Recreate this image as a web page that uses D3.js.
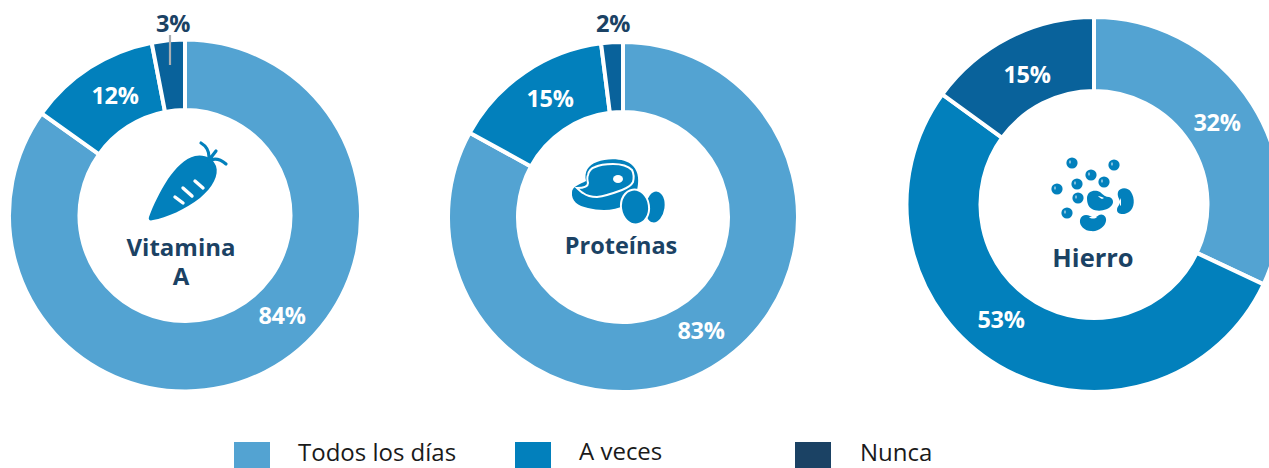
<!DOCTYPE html>
<html><head><meta charset="utf-8">
<script src="https://cdn.jsdelivr.net/npm/d3@7"></script>
<style>html,body{margin:0;background:#fff}svg{display:block}text{font-family:"Open Sans",sans-serif}</style>
</head><body><svg id="c" width="1269" height="468"></svg>
<script>
const categories = ["Todos los días","A veces","Nunca"];
const vitaminaA = [84,12,3];
const proteinas = [83,15,2];
const hierro = [32,53,15];

const sliceColors = ["#53a3d2","#0280bc","#09629b"];
const legendColors = ["#53a3d2","#0280bc","#1b4264"];
const dark = "#1b4264", iconBlue = "#0280bc";
const svg = d3.select("#c");
const color = d3.scaleOrdinal(categories, sliceColors);
const pie = d3.pie().sort(null).value(d => d.v);

const layouts = [
 {values:vitaminaA,cx:185,cy:215.5,R:176,r:105.5},
 {values:proteinas,cx:623,cy:217,R:175,r:105},
 {values:hierro,cx:1094,cy:204.5,R:187.5,r:113.5}
];
const labelPos = [
 [[97,100.5],[-70,-119.5],[-12,-192]],
 [[78,114],[-73,-118.5],[-10,-193.5]],
 [[123,-82],[-93,115.5],[-67,-130]]
];
layouts.forEach((l,i)=>{
  const g = svg.append("g").attr("transform",`translate(${l.cx},${l.cy})`);
  const arc = d3.arc().innerRadius(l.r).outerRadius(l.R);
  g.selectAll("path").data(pie(l.values.map((v,k)=>({v,c:categories[k]})))).join("path")
    .attr("d",arc).attr("fill",d=>color(d.data.c)).attr("stroke","#fff").attr("stroke-width",4);
  l.values.forEach((v,k)=>{
    const outside = i<2 && k===2;
    g.append("text").attr("x",labelPos[i][k][0]).attr("y",labelPos[i][k][1]+8)
     .attr("text-anchor","middle").attr("font-size",23.5).attr("font-weight",700)
     .attr("letter-spacing",-0.3)
     .attr("fill",outside?dark:"#fff").text(v+"%");
  });
});
svg.append("line").attr("x1",170).attr("x2",170).attr("y1",35).attr("y2",65)
  .attr("stroke","#a9aeb2").attr("stroke-width",2.2);

const titles = [
 {x:181,y:256,lines:["Vitamina","A"],size:24},
 {x:621,y:254,lines:["Proteínas"],size:23.5},
 {x:1093,y:267,lines:["Hierro"],size:25.5}
];
titles.forEach(t=>{
  const tx = svg.append("text").attr("text-anchor","middle").attr("font-size",t.size).attr("font-weight",700).attr("fill",dark);
  t.lines.forEach((s,n)=>tx.append("tspan").attr("x",t.x).attr("y",t.y+n*29).text(s));
});

// carrot icon
const carrot = svg.append("g").attr("fill",iconBlue);
carrot.append("path").attr("d","M149 217C148 220 150 221 153 220C166 218 186 209 200 198C213 187 219 175 216 166C213 158 204 154 195 156C185 158 175 169 168 179C160 191 153 206 149 217Z");
carrot.append("path").attr("d","M201 143C206 146 209 150 209 157M209 160L216 151M209 161C214 158 220 159 226 164")
  .attr("fill","none").attr("stroke",iconBlue).attr("stroke-width",3.2).attr("stroke-linecap","round");
carrot.append("path").attr("d","M175 197L183 203M183 188L192 196M195 181L203 188")
  .attr("fill","none").attr("stroke","#fff").attr("stroke-width",3.4).attr("stroke-linecap","round");

// meat and eggs icon
const meat = svg.append("g");
meat.append("path").attr("fill",iconBlue).attr("d","M572 192C572 187 580 184 586 181C584 172 588 165 597 162C608 158 625 158 633 166C639 172 639 182 637 190L625 205C615 211 600 211 588 208C578 206 571 201 572 192Z");
meat.append("path").attr("fill","none").attr("stroke","#fff").attr("stroke-width",2)
 .attr("d","M577 188C582 188 588 187 588 183C587 179 587 177 588 175C589 170 592 168 595 167C601 164 607 164 613 164C620 164 628 166 632 170C634 174 634 178 633 182C631 186 627 188 622 190C614 193 606 196 597 197C592 197 587 196 583 193C581 192 579 190 577 188Z");
meat.append("ellipse").attr("cx",618).attr("cy",179).attr("rx",5).attr("ry",4).attr("fill","#fff");
meat.append("ellipse").attr("cx",655).attr("cy",207).attr("rx",9.5).attr("ry",15.5).attr("fill",iconBlue).attr("transform","rotate(8 655 207)");
meat.append("ellipse").attr("cx",635).attr("cy",207).attr("rx",14).attr("ry",17.5).attr("fill",iconBlue).attr("stroke","#fff").attr("stroke-width",2).attr("transform","rotate(-8 635 207)");

// beans icon
const beans = svg.append("g");
const dots = [[1072,163],[1114,165],[1091,175],[1104,182],[1077,184],[1057,189],[1078,198],[1067,213]];
dots.forEach(([x,y])=>{
  beans.append("circle").attr("cx",x).attr("cy",y).attr("r",5.6).attr("fill",iconBlue);
  beans.append("ellipse").attr("cx",x-2).attr("cy",y-1).attr("rx",0.8).attr("ry",1.8).attr("fill","#a9d3ea");
});
beans.append("path").attr("fill",iconBlue).attr("d","M1087 198C1087 191 1095 189 1100 192C1103 195 1106 197 1109 197C1113 198 1114 202 1112 205C1108 211 1097 212 1092 209C1088 207 1087 202 1087 198Z");
beans.append("path").attr("fill","#fff").attr("d","M1098 196C1100 196 1102 197 1104 198L1102 199C1100 198 1099 197 1098 196Z");
beans.append("path").attr("fill",iconBlue).attr("d","M1118 192C1120 187 1128 187 1131 192C1135 198 1135 208 1129 212C1125 215 1117 215 1117 210C1117 206 1121 204 1120 201C1119 198 1117 196 1118 192Z");
beans.append("path").attr("fill","#fff").attr("d","M1120 200L1121 198L1121 205L1120 206Z");
beans.append("path").attr("fill",iconBlue).attr("d","M1080 220C1081 215 1086 214 1090 216C1093 218 1096 218 1099 215C1103 213 1107 217 1106 221C1105 227 1098 232 1091 231C1085 231 1079 226 1080 220Z");
beans.append("path").attr("fill","#fff").attr("d","M1089 217L1097 217C1095 219 1091 219 1089 217Z");

// legend
const legendX = [234,515,795], textX = [298,579,860], legendTextY=[461,460,461];
const lg = svg.append("g");
categories.forEach((c,i)=>{
  lg.append("rect").attr("x",legendX[i]).attr("y",442).attr("width",36).attr("height",26).attr("fill",legendColors[i]);
  lg.append("text").attr("x",textX[i]).attr("y",legendTextY[i]).attr("font-size",24).attr("fill","#1a1a1a").text(c);
});
</script></body></html>
